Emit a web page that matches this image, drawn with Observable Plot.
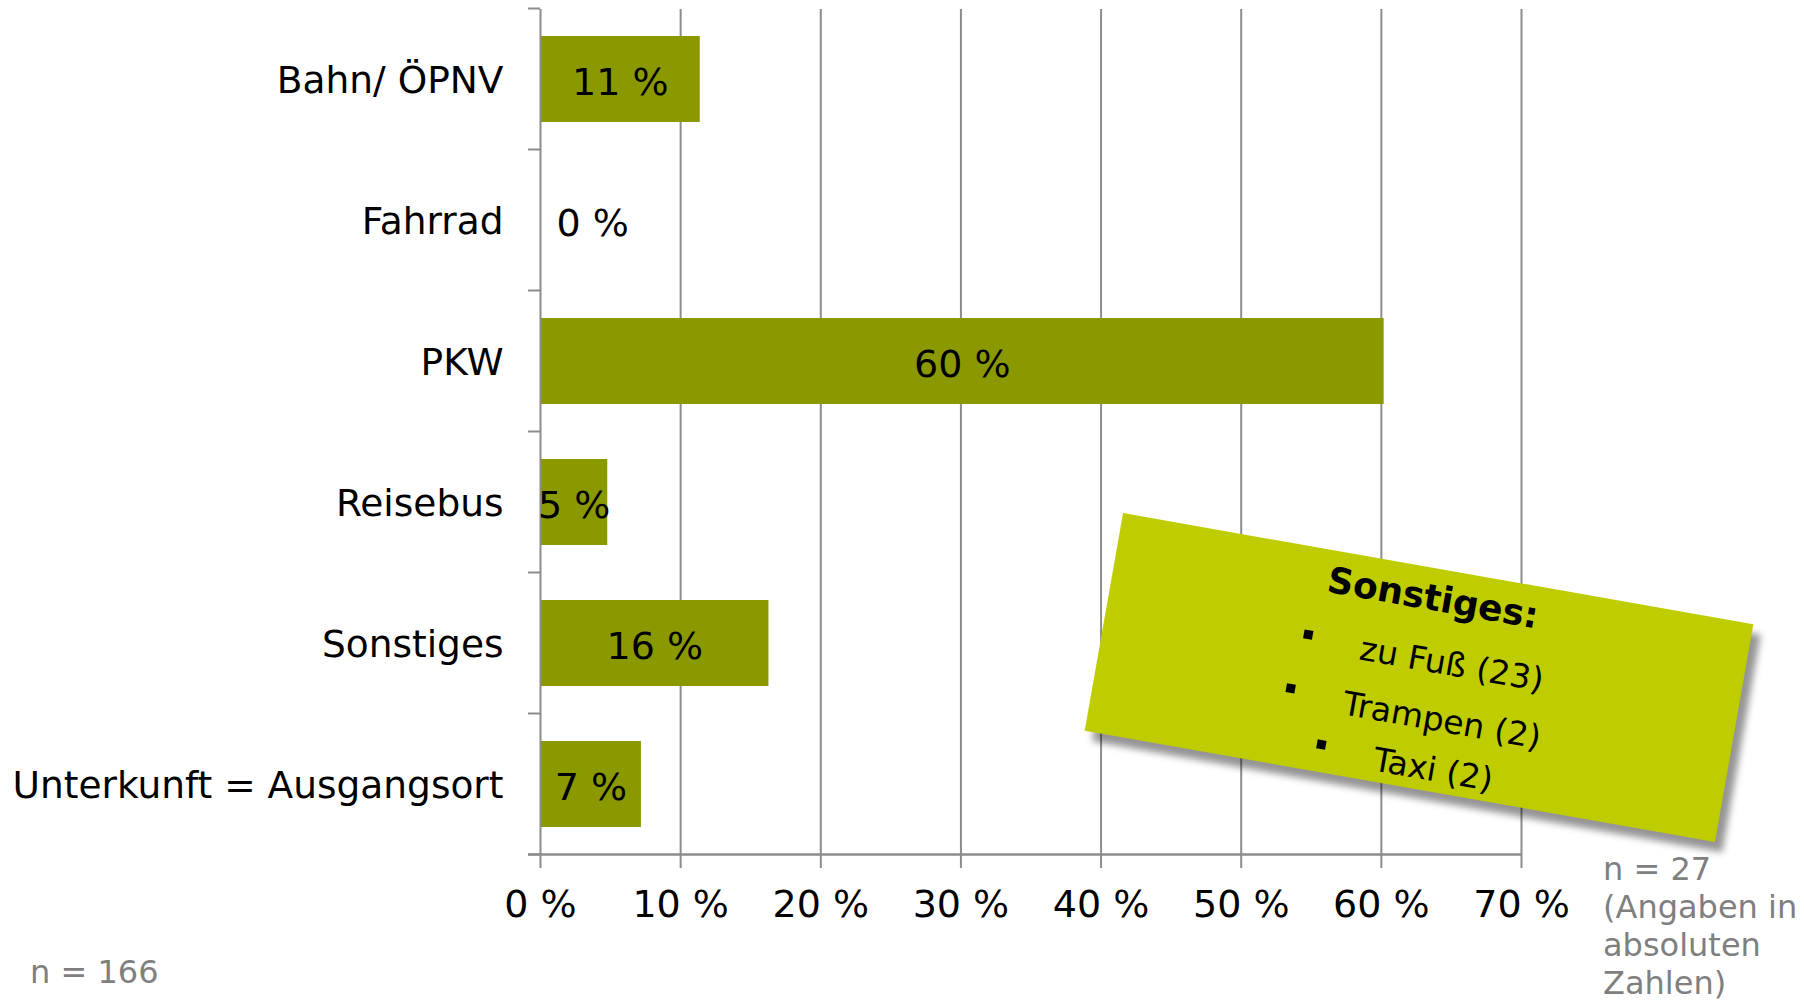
<!DOCTYPE html>
<html><head><meta charset="utf-8">
<script src="https://cdn.jsdelivr.net/npm/d3@7"></script>
<script src="https://cdn.jsdelivr.net/npm/@observablehq/plot@0.6"></script>
<style>
html,body{margin:0;padding:0;background:#fff;}
#wrap{position:relative;width:1804px;height:1002px;overflow:hidden;font-family:'DejaVu Sans',Verdana,sans-serif;}
#chart svg{display:block;}
.note{position:absolute;left:1099px;top:566.5px;width:640px;height:221px;background:#bfcd00;transform:rotate(10deg);box-shadow:9px 9px 7px rgba(0,0,0,0.42);color:#000;}
.note .title{position:absolute;left:0;width:100%;top:10px;text-align:center;font-weight:bold;font-size:36px;line-height:40px;white-space:nowrap;}
.note .item{position:absolute;left:0;width:100%;box-sizing:border-box;padding-left:60px;text-align:center;font-size:33px;line-height:38px;white-space:nowrap;}
.note .item span{position:relative;display:inline-block;}
.note .item span::before{content:"";position:absolute;left:-58.5px;top:9.5px;width:9px;height:9px;background:#000;}
.foot{position:absolute;color:#7f7f7f;font-size:32px;line-height:38px;white-space:nowrap;}
</style></head>
<body>
<div id="wrap">
  <div id="chart"></div>
  <div class="note">
    <div class="title">Sonstiges:</div>
    <div class="item" style="top:73px"><span>zu Fuß (23)</span></div>
    <div class="item" style="top:129.5px"><span>Trampen (2)</span></div>
    <div class="item" style="top:179.5px"><span>Taxi (2)</span></div>
  </div>
  <div class="foot" style="left:30px;top:953px;">n = 166</div>
  <div class="foot" style="left:1603px;top:850px;">n = 27<br>(Angaben in<br>absoluten<br>Zahlen)</div>
</div>
<script>
const categories = ["Bahn/ ÖPNV", "Fahrrad", "PKW", "Reisebus", "Sonstiges", "Unterkunft = Ausgangsort"];
const shares = [11.4, 0, 60.2, 4.8, 16.3, 7.2];
const shareLabels = ["11 %", "0 %", "60 %", "5 %", "16 %", "7 %"];
const xTicks = [0, 10, 20, 30, 40, 50, 60, 70];

const barColor = "#8b9900";
const gridColor = "#8c8c8c";

const data = categories.map((c, i) => ({category: c, share: shares[i], label: shareLabels[i]}));

// category boundary ticks (Excel style) and bottom axis line, from the library's scales
const boundaryTicks = (index, scales) => {
  const {x, y} = scales;
  const bw = y.bandwidth(), step = y.step();
  const off = (step - bw) / 2;
  const edges = categories.map(c => y(c) - off);
  edges.push(y(categories[categories.length - 1]) + bw + off);
  const x0 = x(0);
  const g = d3.create("svg:g").attr("stroke", gridColor).attr("stroke-width", 2);
  g.selectAll("line.t").data(edges).join("line").attr("class", "t")
    .attr("x1", x0 - 12).attr("x2", x0).attr("y1", d => d).attr("y2", d => d);
  g.append("line").attr("x1", x0 - 12).attr("x2", x(xTicks[xTicks.length - 1]))
    .attr("y1", edges[edges.length - 1]).attr("y2", edges[edges.length - 1]).attr("stroke-width", 2.5);
  return g.node();
};

const chart = Plot.plot({
  width: 1804, height: 1002,
  marginLeft: 540, marginRight: 283, marginTop: 9, marginBottom: 147,
  style: {fontFamily: "'DejaVu Sans', Verdana, sans-serif", fontSize: "38px", background: "transparent", overflow: "visible"},
  x: {domain: [0, 70], label: null},
  y: {domain: categories, paddingInner: 0.39, paddingOuter: 0.195, label: null},
  marks: [
    Plot.ruleX(xTicks.filter(d => d > 0), {stroke: gridColor, strokeWidth: 2}),
    Plot.barX(data, {y: "category", x: "share", fill: barColor}),
    Plot.ruleX([0], {stroke: gridColor, strokeWidth: 2}),
    boundaryTicks,
    Plot.axisX({ticks: xTicks, tickSize: 13, tickPadding: 22, tickFormat: d => `${d} %`, stroke: gridColor, strokeWidth: 2, color: "black", fontSize: 38, label: null}),
    Plot.axisY({tickSize: 0, tickPadding: 37, fontSize: 37.5, color: "black", label: null, dy: 1}),
    Plot.text(data.filter(d => d.share > 0), {y: "category", x: d => d.share / 2, text: "label", fontSize: 38, fill: "black", dy: 3}),
    Plot.text(data.filter(d => d.share === 0), {y: "category", x: "share", text: "label", textAnchor: "start", dx: 16, fontSize: 38, fill: "black", dy: 3})
  ]
});
document.getElementById("chart").appendChild(chart);
</script>
</body></html>
